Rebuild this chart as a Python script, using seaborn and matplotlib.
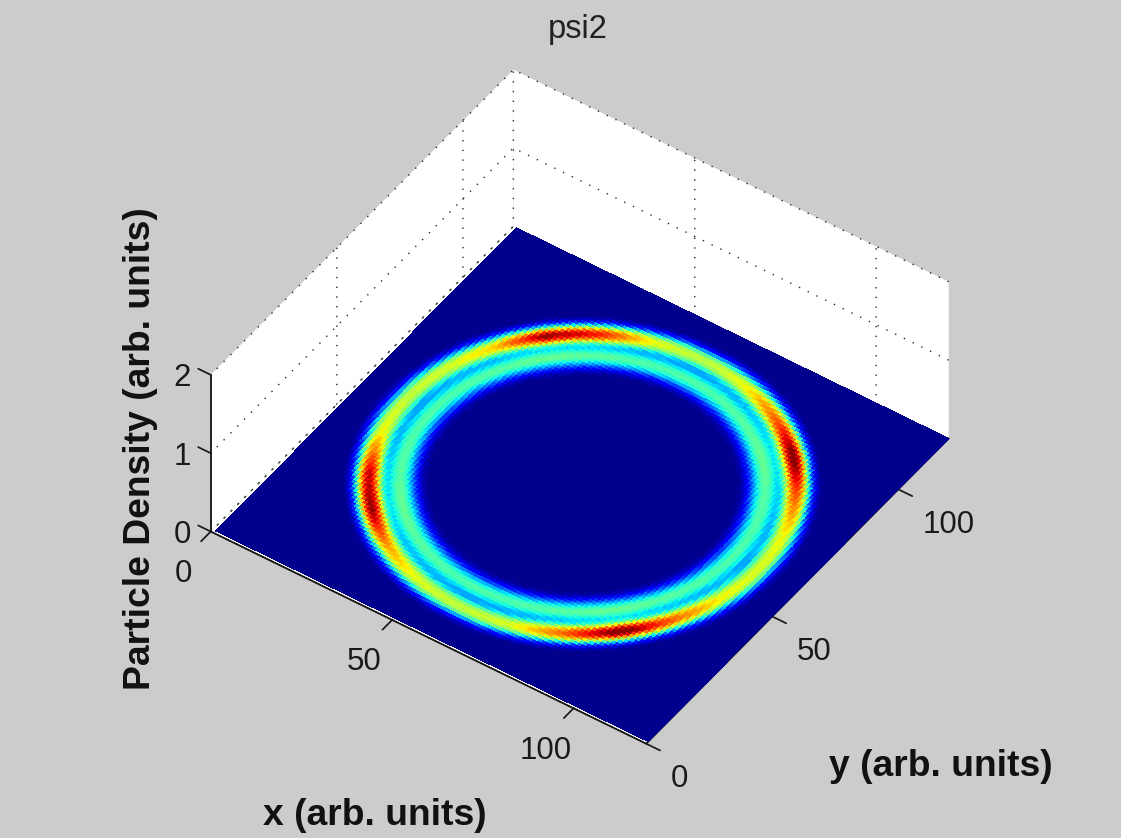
import numpy as np
import matplotlib
matplotlib.use("Agg")
import matplotlib.pyplot as plt
from matplotlib.colors import ListedColormap
from mpl_toolkits.mplot3d import proj3d
import seaborn as sns

# ---- values ----
x_ticks = [0, 50, 100]
y_ticks = [0, 50, 100]
z_ticks = [0, 1, 2]
axis_max = 120
density_max = 2
title_text = "psi2"
x_label = "x (arb. units)"
y_label = "y (arb. units)"
z_label = "Particle Density (arb. units)"

ring_center_x = 60.0
ring_center_y = 60.0
radius_samples = [34, 35, 36, 37, 38, 39, 40, 41, 42, 43, 44, 45, 46, 47, 48, 49, 50, 51, 52, 53, 54, 55]
inner_ring_profile = [0, .02, .07, .20, .42, .68, .88, 1.0, .97, .80, .56, .34, .18, .08, .03, 0, 0, 0, 0, 0, 0, 0]
outer_ring_profile = [0, 0, 0, 0, 0, 0, 0, 0, 0, .02, .08, .24, .55, .85, 1.0, 1.0, .82, .50, .22, .07, .01, 0]
angle_samples = [0, 15, 30, 45, 60, 75, 90, 105, 120, 135, 150, 165,
                 180, 195, 210, 225, 240, 255, 270, 285, 300, 315, 330, 345]
outer_ring_peak = [1.2, 1.28, 1.62, 2.05, 1.62, 1.28, 1.12, 1.25, 1.75, 1.95, 1.35, 1.2,
                   1.15, 1.28, 1.85, 1.95, 1.45, 1.22, 1.15, 1.22, 1.62, 2.05, 1.6, 1.28]
inner_ring_peak = [.88, .9, .92, .95, .92, .9, .88, .9, .92, .95, .92, .9,
                   .88, .9, .92, .95, .92, .9, .88, .9, .92, .95, .92, .9]

BG = "#CCCCCC"
sns.set_theme(style="white")
plt.rcParams["font.family"] = ["Liberation Sans", "DejaVu Sans"]
plt.rcParams["axes3d.grid"] = True

# ---- density table on the 1-unit grid ----
xc = np.arange(0, axis_max + 1, 1.0)
yc = np.arange(0, axis_max + 1, 1.0)
xc[0] = 0.8
yc[0] = 0.8
X, Y = np.meshgrid(xc, yc)
dx, dy = X - ring_center_x, Y - ring_center_y
R = np.hypot(dx, dy)
T = np.degrees(np.arctan2(dy, dx)) % 360
density = (np.interp(R, radius_samples, outer_ring_profile, left=0, right=0)
           * np.interp(T, angle_samples, outer_ring_peak, period=360)
           + np.interp(R, radius_samples, inner_ring_profile, left=0, right=0)
           * np.interp(T, angle_samples, inner_ring_peak, period=360))

cmap = ListedColormap(sns.mpl_palette("jet", 64))
norm = plt.Normalize(0, density_max)

fig = plt.figure(figsize=(11.21, 8.38), dpi=100, facecolor=BG)
W, H = 1121, 838
S0 = 800
ax = fig.add_axes([(W - S0) / 2 / W, (H - S0) / 2 / H, S0 / W, S0 / H],
                  projection="3d", proj_type="ortho")
ax.view_init(elev=44.5, azim=-55.2, roll=0)
ax.set_box_aspect((531, 531, 220), zoom=1)
ax.set_facecolor("none")
ax.set_xlim(0, axis_max, view_margin=0)
ax.set_ylim(0, axis_max, view_margin=0)
ax.set_zlim(0, density_max, view_margin=0)

ax.plot_surface(X, Y, np.zeros_like(X), facecolors=cmap(norm(density)),
                rstride=1, cstride=1, shade=False, linewidth=0, antialiased=False)

dotted = (0, (1, 6))
dot_col = "#2a2a2a"
for a in (ax.xaxis, ax.yaxis, ax.zaxis):
    a.set_pane_color((1, 1, 1, 1))
    a.pane.set_edgecolor("none")
    a.line.set_color("#111111")
    a.line.set_linewidth(1.3)
    a._axinfo["grid"].update(color=dot_col, linewidth=1.0, linestyle=dotted)
    a._axinfo["tick"].update(inward_factor=0.4, outward_factor=0.0)
ax.zaxis._axinfo["tick"].update(inward_factor=0.0, outward_factor=0.36)
ax.zaxis.set_ticks_position("lower")
ax.zaxis._get_tickdir = lambda position: 0   # z ticks run along x, as in the reference
ax.set_xticks(x_ticks)
ax.set_yticks(y_ticks)
ax.set_zticks(z_ticks)
ax.set_xticklabels([str(v) for v in x_ticks])
ax.set_yticklabels([str(v) for v in y_ticks])
ax.set_zticklabels([str(v) for v in z_ticks])
ax.tick_params(labelsize=22.5, colors="#1a1a1a", width=1.0)
ax.tick_params(axis="x", pad=18)
ax.tick_params(axis="y", pad=8)
ax.tick_params(axis="z", pad=3)
plt.setp(ax.xaxis.get_ticklabels(), va="center")
plt.setp(ax.yaxis.get_ticklabels(), va="top", ha="left")
plt.setp(ax.zaxis.get_ticklabels(), va="center")


def floor_px():
    ax.apply_aspect()
    xs = np.array([0.0, axis_max, axis_max, 0.0])
    ys = np.array([0.0, 0.0, axis_max, axis_max])
    x2, y2, _ = proj3d.proj_transform(xs, ys, np.zeros(4), ax.get_proj())
    return ax.transData.transform(np.c_[x2, y2])


target = np.array([[210, H - 531], [646, H - 744], [948, H - 437], [515, H - 228]], float)
cur = floor_px()
scale = np.ptp(target[:, 0]) / np.ptp(cur[:, 0])
S = S0 * scale
ax.set_position([(W - S) / 2 / W, (H - S) / 2 / H, S / W, S / H])
cur = floor_px()
shift = target.mean(axis=0) - cur.mean(axis=0)
ax.set_position([((W - S) / 2 + shift[0]) / W, ((H - S) / 2 + shift[1]) / H, S / W, S / H])

fig.text(578 / W, 1 - 38 / H, title_text, fontsize=23.5, color="#222222", ha="center", va="baseline")
fig.text(375 / W, 1 - 825 / H, x_label, fontsize=26.8, fontweight="bold", color="#111111", ha="center", va="baseline")
fig.text(941 / W, 1 - 776 / H, y_label, fontsize=26.8, fontweight="bold", color="#111111", ha="center", va="baseline")
fig.text(140 / W, 1 - 449 / H, z_label, fontsize=26.8, fontweight="bold", color="#111111",
         rotation=90, ha="center", va="center")

fig.savefig("out.png", dpi=100, facecolor=BG)
